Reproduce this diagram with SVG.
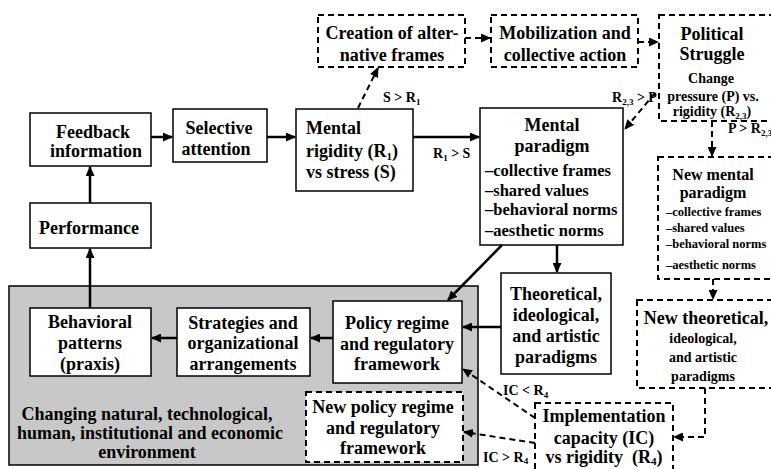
<svg xmlns="http://www.w3.org/2000/svg" width="771" height="469" viewBox="0 0 771 469">
<style>
.box{fill:#fff;stroke:#000;stroke-width:1.5}
.dbox{fill:#fff;stroke:#000;stroke-width:2;stroke-dasharray:6 4}
.env{fill:#c8c8c8;stroke:#000;stroke-width:1.5}
text{font-family:"Liberation Serif","Times New Roman",serif;font-weight:bold;fill:#000}
.t{font-size:18px;text-anchor:middle}
.l{font-size:18px}
.m{font-size:16.5px}
.n{font-size:14px;text-anchor:middle}
.k{font-size:12.5px}
.lab{font-size:14px}
.c{stroke:#000;stroke-width:2.5;fill:none}
.d{stroke:#000;stroke-width:2;stroke-dasharray:6 4;fill:none}
</style>
<defs>
<marker id="a" markerUnits="userSpaceOnUse" markerWidth="11" markerHeight="9" refX="9" refY="4.5" orient="auto">
<path d="M0,0 L10,4.5 L0,9 z" fill="#000"/>
</marker>
</defs>

<g id="environment">
<rect class="env" x="9" y="286" width="469" height="179"/>
<text class="t" x="147" y="420">Changing natural, technological,</text>
<text class="t" x="150" y="439">human, institutional and economic</text>
<text class="t" x="147" y="458">environment</text>
</g>

<g id="feedback">
<rect class="box" x="30" y="113" width="121" height="53"/>
<text class="t" x="93" y="138">Feedback</text>
<text class="t" x="96" y="157">information</text>
</g>

<g id="selective">
<rect class="box" x="173" y="109" width="94" height="53"/>
<text class="t" x="219" y="134">Selective</text>
<text class="t" x="216" y="155">attention</text>
</g>

<g id="performance">
<rect class="box" x="30" y="203" width="121" height="45"/>
<text class="t" x="89" y="234">Performance</text>
</g>

<g id="rigidity">
<rect class="box" x="296" y="109" width="117" height="82"/>
<text class="l" x="306" y="134">Mental</text>
<text class="l" x="306" y="157">rigidity (R<tspan font-size="11" dy="3">1</tspan><tspan dy="-3">)</tspan></text>
<text class="l" x="306" y="178">vs stress (S)</text>
</g>

<g id="paradigm">
<rect class="box" x="480" y="108" width="143" height="137"/>
<text class="t" x="552" y="131">Mental</text>
<text class="t" x="552" y="152">paradigm</text>
<text class="m" x="485" y="176">–collective frames</text>
<text class="m" x="485" y="196">–shared values</text>
<text class="m" x="485" y="215">–behavioral norms</text>
<text class="m" x="485" y="236">–aesthetic norms</text>
</g>

<g id="creation">
<rect class="dbox" x="318" y="15" width="147" height="52"/>
<text class="t" x="392" y="39">Creation of alter-</text>
<text class="t" x="392" y="61">native frames</text>
</g>

<g id="mobilization">
<rect class="dbox" x="491" y="15" width="147" height="52"/>
<text class="t" x="565" y="39">Mobilization and</text>
<text class="t" x="565" y="61">collective action</text>
</g>

<g id="political">
<rect class="dbox" x="659" y="15" width="116" height="106"/>
<text class="t" x="712" y="40">Political</text>
<text class="t" x="712" y="60">Struggle</text>
<text class="n" x="711" y="83">Change</text>
<text class="n" x="713" y="101">pressure (P) vs.</text>
<text class="n" x="712" y="116">rigidity (R<tspan font-size="9" dy="3">2,3</tspan><tspan dy="-3">)</tspan></text>
</g>

<g id="new-paradigm">
<rect class="dbox" x="658" y="157" width="120" height="122"/>
<text x="713" y="180" style="font-size:16px;text-anchor:middle">New mental</text>
<text x="713" y="198" style="font-size:16px;text-anchor:middle">paradigm</text>
<text class="k" x="666" y="216">–collective frames</text>
<text class="k" x="666" y="232">–shared values</text>
<text class="k" x="666" y="248">–behavioral norms</text>
<text class="k" x="666" y="269">–aesthetic norms</text>
</g>

<g id="theoretical">
<rect class="box" x="501" y="273" width="110" height="101"/>
<text class="t" x="556" y="300">Theoretical,</text>
<text class="t" x="556" y="321">ideological,</text>
<text class="t" x="556" y="342">and artistic</text>
<text class="t" x="556" y="363">paradigms</text>
</g>

<g id="new-theoretical">
<rect class="dbox" x="637" y="300" width="140" height="88"/>
<text class="t" x="706" y="324">New theoretical,</text>
<text class="n" x="703" y="343">ideological,</text>
<text class="n" x="703" y="362">and artistic</text>
<text class="n" x="703" y="381">paradigms</text>
</g>

<g id="policy">
<rect class="box" x="333" y="301" width="129" height="82"/>
<text class="t" x="397" y="329">Policy regime</text>
<text class="t" x="397" y="350">and regulatory</text>
<text class="t" x="397" y="370">framework</text>
</g>

<g id="strategies">
<rect class="box" x="177" y="308" width="133" height="68"/>
<text class="t" x="243" y="329">Strategies and</text>
<text class="t" x="243" y="349">organizational</text>
<text class="t" x="243" y="370">arrangements</text>
</g>

<g id="behavioral">
<rect class="box" x="30" y="308" width="121" height="68"/>
<text class="t" x="90" y="328">Behavioral</text>
<text class="t" x="90" y="349">patterns</text>
<text class="t" x="90" y="370">(praxis)</text>
</g>

<g id="new-policy">
<rect class="dbox" x="306" y="392" width="157" height="70"/>
<text class="t" x="383" y="413">New policy regime</text>
<text class="t" x="383" y="434">and regulatory</text>
<text class="t" x="383" y="454">framework</text>
</g>

<g id="implementation">
<rect class="dbox" x="535" y="403" width="138" height="75"/>
<text class="t" x="604" y="422">Implementation</text>
<text class="t" x="604" y="444">capacity (IC)</text>
<text class="t" x="604" y="463" xml:space="preserve">vs rigidity  (R<tspan font-size="11" dy="2">4</tspan><tspan dy="-2">)</tspan></text>
</g>

<g id="connectors">
<line class="c" x1="90" y1="308" x2="90" y2="249" marker-end="url(#a)"/>
<line class="c" x1="90" y1="203" x2="90" y2="167" marker-end="url(#a)"/>
<line class="c" x1="151" y1="137" x2="172" y2="137" marker-end="url(#a)"/>
<line class="c" x1="267" y1="137" x2="295" y2="137" marker-end="url(#a)"/>
<line class="c" x1="413" y1="137" x2="479" y2="137" marker-end="url(#a)"/>
<line class="d" x1="358" y1="108" x2="378" y2="68" marker-end="url(#a)"/>
<line class="d" x1="465" y1="38" x2="490" y2="38" marker-end="url(#a)"/>
<line class="d" x1="638" y1="42" x2="658" y2="42" marker-end="url(#a)"/>
<line class="d" x1="655" y1="93" x2="625" y2="129" marker-end="url(#a)"/>
<line class="d" x1="712" y1="121" x2="712" y2="156" marker-end="url(#a)"/>
<line class="d" x1="713" y1="279" x2="713" y2="299" marker-end="url(#a)"/>
<path class="d" d="M705,388 V437 H674" marker-end="url(#a)"/>
<line class="d" x1="535" y1="418" x2="463" y2="369" marker-end="url(#a)"/>
<line class="d" x1="535" y1="443" x2="464" y2="432" marker-end="url(#a)"/>
<line class="c" x1="557" y1="245" x2="557" y2="272" marker-end="url(#a)"/>
<line class="c" x1="502" y1="245" x2="448" y2="300" marker-end="url(#a)"/>
<line class="c" x1="501" y1="327" x2="463" y2="327" marker-end="url(#a)"/>
<line class="c" x1="333" y1="338" x2="311" y2="338" marker-end="url(#a)"/>
<line class="c" x1="177" y1="338" x2="152" y2="338" marker-end="url(#a)"/>
<text class="lab" x="433" y="158">R<tspan font-size="9" dy="3">1</tspan><tspan dy="-3"> &gt; S</tspan></text>
<text class="lab" x="383" y="102">S &gt; R<tspan font-size="9" dy="3">1</tspan></text>
<text class="lab" x="612" y="102">R<tspan font-size="9" dy="3">2,3</tspan><tspan dy="-3"> &gt; P</tspan></text>
<text class="lab" x="728" y="133">P &gt; R<tspan font-size="9" dy="3">2,3</tspan></text>
<text class="lab" x="503" y="395">IC &lt; R<tspan font-size="9" dy="3">4</tspan></text>
<text class="lab" x="483" y="462">IC &gt; R<tspan font-size="9" dy="2">4</tspan></text>
</g>
</svg>
